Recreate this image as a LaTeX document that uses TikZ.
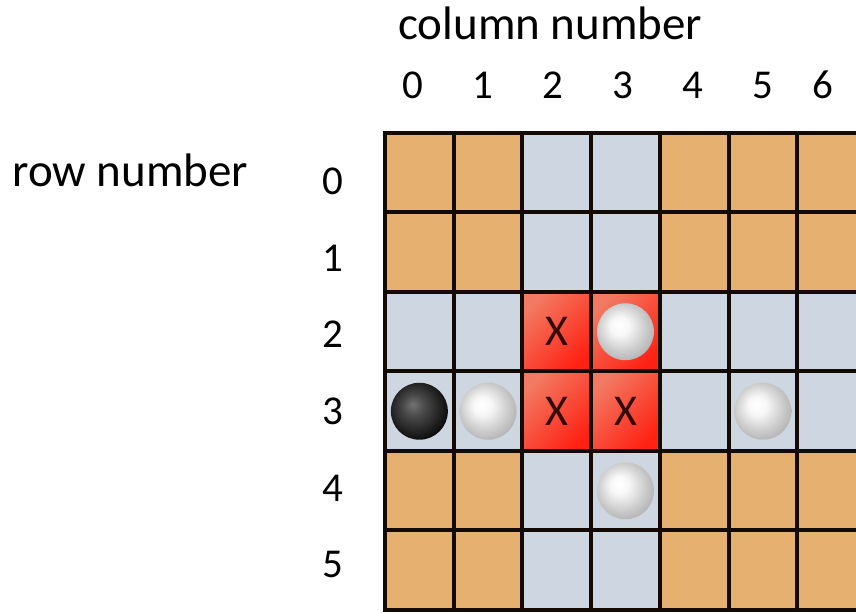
\documentclass[tikz,border=0pt]{standalone}
\usepackage{fontspec}
\setmainfont{Carlito}
\usetikzlibrary{positioning}
\definecolor{BoardOrange}{HTML}{E6B070}
\definecolor{BoardBlue}{HTML}{CED6E2}
\definecolor{HitRed}{HTML}{FF2214}
\definecolor{HitEdge}{HTML}{F27A62}
\definecolor{GridLine}{HTML}{140A04}
\definecolor{CrossInk}{HTML}{300808}

% shadings for the stones (centre offset to upper left)
\pgfdeclareradialshading{pearl}{\pgfpoint{-6bp}{6bp}}{%
    color(0bp)=(white); color(8bp)=(white!94!gray); color(20bp)=(gray!38);
    color(30bp)=(gray!62); color(50bp)=(gray!62)}
\pgfdeclareradialshading{coal}{\pgfpoint{-6bp}{6bp}}{%
    color(0bp)=(black!55); color(10bp)=(black!72); color(24bp)=(black!90);
    color(32bp)=(black); color(50bp)=(black)}

\begin{document}
\begin{tikzpicture}[x=0.5pt, y=-0.5pt,
        % --- board styles ---
        square/.style = {rectangle, inner sep=0pt, outer sep=0pt, anchor=north west,
                         minimum width=34.35pt, minimum height=39.75pt},
        hit/.style    = {square, shading=axis, top color=HitEdge, bottom color=HitRed,
                         shading angle=45},
        gridline/.style = {draw=GridLine, line width=2pt, line cap=rect},
        % --- stones and marks ---
        stone/.style  = {circle, inner sep=0pt, minimum size=28.5pt},
        darkstone/.style  = {stone, shading=coal},
        lightstone/.style = {stone, shading=pearl},
        cross/.style  = {text=CrossInk, font=\fontsize{22}{26}\selectfont},
        % --- labels ---
        title/.style  = {anchor=base west, inner sep=0pt, font=\fontsize{23.5}{28}\selectfont},
        digit/.style  = {anchor=base, inner sep=0pt, font=\fontsize{20.5}{24}\selectfont}
    ]

    \useasboundingbox (0,0) rectangle (856,613);
    \clip (0,0) rectangle (856,613);

    % Labels
    \node[title] (coltitle) at (398,40) {column number};
    \node[title] (rowtitle) at (12,187) {row number};

    \foreach \c/\x in {0/413, 1/483, 2/553, 3/623, 4/693, 5/763, 6/823}
        \node[digit] (col\c) at (\x,99) {\c};
    \foreach \r/\y in {0/195, 1/272, 2/348, 3/425, 4/502, 5/578}
        \node[digit] (row\r) at (333,\y) {\r};

    % Board squares (cross shape in blue)
    \foreach \r in {0,...,5}
        \foreach \c in {0,...,6} {
            \pgfmathtruncatemacro\incross{(\r==2 || \r==3 || \c==2 || \c==3)}
            \ifnum\incross=1 \def\tone{BoardBlue}\else\def\tone{BoardOrange}\fi
            \node[square, fill=\tone] (sq-\r-\c) at (385+68.7*\c, 133+79.5*\r) {};
        }

    % Highlighted squares
    \foreach \r/\c in {2/2, 2/3, 3/2, 3/3}
        \node[hit] (hit-\r-\c) at (sq-\r-\c.north west) {};

    % Grid lines
    \foreach \c in {0,...,6}
        \draw[gridline] (sq-0-\c.north west) -- (sq-5-\c.south west);
    \foreach \r in {0,...,5}
        \draw[gridline] (sq-\r-0.north west) -- (sq-\r-6.north east);
    \draw[gridline] (sq-5-0.south west) -- (sq-5-6.south east);

    % Stones
    \node[darkstone]  (stone-3-0) at (sq-3-0.center) {};
    \node[lightstone] (stone-3-1) at (sq-3-1.center) {};
    \node[lightstone] (stone-2-3) at (sq-2-3.center) {};
    \node[lightstone] (stone-3-5) at (sq-3-5.center) {};
    \node[lightstone] (stone-4-3) at (sq-4-3.center) {};

    % Marks
    \node[cross] (mark-2-2) at (sq-2-2.center) {X};
    \node[cross] (mark-3-2) at (sq-3-2.center) {X};
    \node[cross] (mark-3-3) at (sq-3-3.center) {X};

\end{tikzpicture}
\end{document}
